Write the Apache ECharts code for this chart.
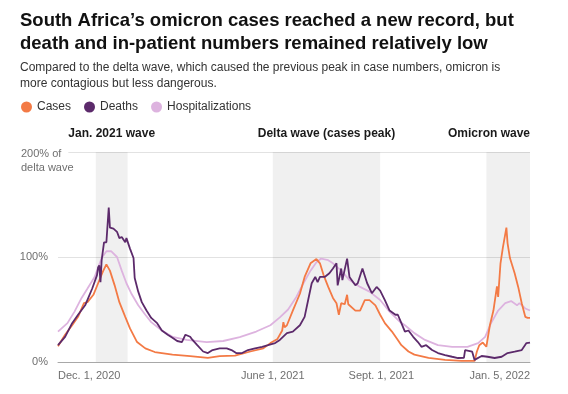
<!DOCTYPE html>
<html><head><meta charset="utf-8">
<script src="https://cdn.jsdelivr.net/npm/echarts@6/dist/echarts.min.js"></script>
<style>html,body{margin:0;padding:0;background:#fff}#c{width:568px;height:394px}</style>
</head><body><div id="c"></div>
<script>
const titleText = 'South Africa\u2019s omicron cases reached a new record, but\ndeath and in-patient numbers remained relatively low';
const subtitleText = 'Compared to the delta wave, which caused the previous peak in case numbers, omicron is\nmore contagious but less dangerous.';
const seriesNames = ['Cases', 'Deaths', 'Hospitalizations'];
const xTickDates = ['2020-12-01', '2021-06-01', '2021-09-01', '2022-01-05'];
const xTickLabels = ['Dec. 1, 2020', 'June 1, 2021', 'Sept. 1, 2021', 'Jan. 5, 2022'];
const yTicks = [0, 100, 200];
const yTickLabels = ['0%', '100%', '200% of\ndelta wave'];
const waveNames = ['Jan. 2021 wave', 'Delta wave (cases peak)', 'Omicron wave'];
const waveStarts = ['2021-01-02', '2021-06-01', '2021-11-29'];
const waveEnds = ['2021-01-29', '2021-08-31', '2022-01-05'];

const caseDates = ['2020-12-01','2020-12-07','2020-12-13','2020-12-18','2020-12-23','2020-12-26','2020-12-31','2021-01-04','2021-01-08','2021-01-11','2021-01-14','2021-01-18','2021-01-22','2021-01-27','2021-01-31','2021-02-06','2021-02-13','2021-02-21','2021-03-08','2021-03-23','2021-04-07','2021-04-17','2021-04-30','2021-05-13','2021-05-24','2021-05-30','2021-06-05','2021-06-09','2021-06-10','2021-06-11','2021-06-13','2021-06-18','2021-06-24','2021-06-28','2021-07-03','2021-07-08','2021-07-11','2021-07-14','2021-07-18','2021-07-22','2021-07-25','2021-07-27','2021-07-29','2021-08-01','2021-08-03','2021-08-04','2021-08-10','2021-08-14','2021-08-18','2021-08-22','2021-08-27','2021-08-31','2021-09-04','2021-09-10','2021-09-15','2021-09-18','2021-09-24','2021-09-29','2021-10-11','2021-10-25','2021-11-08','2021-11-19','2021-11-21','2021-11-23','2021-11-26','2021-11-29','2021-12-02','2021-12-05','2021-12-08','2021-12-09','2021-12-11','2021-12-13','2021-12-16','2021-12-17','2021-12-19','2021-12-23','2021-12-26','2021-12-29','2022-01-01','2022-01-03','2022-01-05'];
const caseValues = [15,26,35,43,56,57,64,75,86,93,87,73,57,43,32,19,13,9.5,7,5.5,4,5.5,6,10,13,18,22,30,38,33,35,49,65,81,94,98,94,83,71.5,61,56,45,56,55,64,55,49,49,59,59,54,45,37,29,21,16,10,7,4,2,1,1,10,16,18.5,14.5,35,49,72,62,94,109,128,113,99,84.5,71.5,56,43,42,42];

const deathDates = ['2020-12-01','2020-12-07','2020-12-13','2020-12-18','2020-12-24','2020-12-30','2021-01-03','2021-01-04','2021-01-05','2021-01-06','2021-01-07','2021-01-09','2021-01-11','2021-01-12','2021-01-13','2021-01-14','2021-01-17','2021-01-20','2021-01-22','2021-01-24','2021-01-27','2021-01-28','2021-01-31','2021-02-03','2021-02-04','2021-02-07','2021-02-10','2021-02-14','2021-02-18','2021-02-23','2021-02-27','2021-03-04','2021-03-08','2021-03-12','2021-03-16','2021-03-19','2021-03-23','2021-03-25','2021-03-29','2021-04-03','2021-04-07','2021-04-11','2021-04-17','2021-04-23','2021-04-27','2021-05-01','2021-05-06','2021-05-11','2021-05-17','2021-05-23','2021-05-28','2021-06-03','2021-06-07','2021-06-13','2021-06-18','2021-06-24','2021-06-28','2021-07-01','2021-07-04','2021-07-07','2021-07-09','2021-07-11','2021-07-15','2021-07-19','2021-07-22','2021-07-25','2021-07-26','2021-07-29','2021-07-30','2021-08-03','2021-08-05','2021-08-10','2021-08-12','2021-08-16','2021-08-20','2021-08-24','2021-08-28','2021-08-31','2021-09-04','2021-09-08','2021-09-13','2021-09-15','2021-09-18','2021-09-21','2021-09-24','2021-09-28','2021-10-02','2021-10-05','2021-10-09','2021-10-14','2021-10-19','2021-10-25','2021-10-31','2021-11-05','2021-11-10','2021-11-11','2021-11-17','2021-11-18','2021-11-19','2021-11-25','2021-11-30','2021-12-06','2021-12-12','2021-12-17','2021-12-23','2021-12-29','2022-01-02','2022-01-05'];
const deathValues = [16,24,37,45,54,70,82.5,90,92,76,97,114,114,114,147,128,127,124,118,119,114,118,108,99,80,67,57,49,42,37,30,26,23,20,19,26,24,21,16,10,8.5,11.4,13,13,11.4,8.5,8.5,11.4,13,14.5,16,18,21,27.5,29,35,43,59,75,81,76,81,81,84.5,89,94,73,89,78,98.5,81,73,75,89,75,65.5,71.5,68,59,49,45,45,37,29,30,24,19,14.5,16,11.4,8.5,6.6,5,3.8,4,11.4,9.8,10,2,5.7,5,3.8,5,8.5,9.8,11.4,18,18.5];

const hospDates = ['2020-12-01','2020-12-09','2020-12-15','2020-12-21','2020-12-26','2021-01-01','2021-01-07','2021-01-11','2021-01-15','2021-01-20','2021-01-24','2021-01-28','2021-02-01','2021-02-07','2021-02-13','2021-02-18','2021-02-27','2021-03-08','2021-03-20','2021-04-06','2021-04-20','2021-05-04','2021-05-18','2021-05-30','2021-06-07','2021-06-14','2021-06-21','2021-06-27','2021-07-03','2021-07-08','2021-07-12','2021-07-18','2021-07-22','2021-07-29','2021-08-05','2021-08-14','2021-08-22','2021-08-31','2021-09-08','2021-09-17','2021-09-21','2021-09-29','2021-10-08','2021-10-19','2021-10-31','2021-11-13','2021-11-22','2021-11-28','2021-12-03','2021-12-09','2021-12-15','2021-12-20','2021-12-25','2021-12-27','2022-01-01','2022-01-05'];
const hospValues = [29,37,48,61,70,81,99,105.5,105.5,100,87,75,65.5,54,45,38,30,24,21,19,20,23.7,29,35,42.5,50,62,75,87,95,98.5,97,94,87,78,71.5,67,59,48,38,35,27.5,21,16,14.5,14.5,18,24,37,49,56,58,54,56,51,49];

const colors = {Cases: '#f37a45', Deaths: '#5c2a6b', Hospitalizations: '#ddb3df'};
const FONT = '"Liberation Sans", Arial, sans-serif';

function ts(s) { return Date.parse(s + 'T00:00:00Z'); }
function pairs(d, v) { return d.map((x, i) => [ts(x), v[i]]); }
const xTickValues = xTickDates.map(ts);

const chart = echarts.init(document.getElementById('c'), null, {renderer: 'canvas'});

const bands = waveNames.map((n, i) => [
  {xAxis: ts(waveStarts[i]), name: n, label: i === 2
    ? {position: 'insideTopRight', offset: [5, -29], align: 'right'}
    : {position: 'top', distance: 12}},
  {xAxis: ts(waveEnds[i])}
]);

chart.setOption({
  animation: false,
  textStyle: {fontFamily: FONT},
  title: [
    {text: titleText, left: 20, top: 9, padding: 0, textStyle: {fontFamily: FONT, fontSize: 18.5, fontWeight: 'bold', color: '#111', lineHeight: 23}},
    {text: subtitleText, left: 20, top: 60, padding: 0, textStyle: {fontFamily: FONT, fontSize: 12, fontWeight: 'normal', color: '#333', lineHeight: 16}}
  ],
  legend: {
    data: seriesNames, left: 21, top: 101, padding: 0, icon: 'circle', itemWidth: 11, itemHeight: 11, itemGap: 13,
    textStyle: {fontFamily: FONT, fontSize: 12, color: '#333'}
  },
  grid: {left: 58, right: 38, top: 152, bottom: 32, containLabel: false},
  xAxis: {
    type: 'value', min: xTickValues[0], max: xTickValues[3],
    axisLine: {show: true, lineStyle: {color: '#a8a8a8', width: 1}},
    axisTick: {show: false},
    splitLine: {show: false},
    axisLabel: {
      customValues: xTickValues,
      formatter: (v) => { const i = xTickValues.indexOf(v); return i >= 0 ? xTickLabels[i] : ''; },
      alignMinLabel: 'left', alignMaxLabel: 'right',
      color: '#6f6f6f', fontSize: 11, fontFamily: FONT, margin: 8, hideOverlap: false
    }
  },
  yAxis: {
    type: 'value', min: 0, max: 200, interval: 100,
    axisLine: {show: false}, axisTick: {show: false},
    splitLine: {lineStyle: {color: '#e2e2e2', width: 1}},
    axisLabel: {
      align: 'left', margin: 37, color: '#6f6f6f', fontSize: 11, fontFamily: FONT,
      formatter: (v) => {
        const i = yTicks.indexOf(v);
        if (v === 200) { const p = yTickLabels[i].split('\n'); return '{e| }\n{g|' + p[0] + '}\n{l|' + p[1] + '}'; }
        return '{r|' + yTickLabels[i] + '}';
      },
      rich: {
        r: {width: 27, align: 'right', fontSize: 11, color: '#6f6f6f', fontFamily: FONT},
        g: {align: 'left', fontSize: 11, color: '#6f6f6f', lineHeight: 14, fontFamily: FONT, backgroundColor: '#fff', padding: [0, 7, 0, 0]},
        l: {align: 'left', fontSize: 11, color: '#6f6f6f', lineHeight: 14, fontFamily: FONT},
        e: {fontSize: 11, lineHeight: 18}
      }
    }
  },
  series: [
    {
      name: 'Hospitalizations', type: 'line', data: pairs(hospDates, hospValues), showSymbol: false, z: 2,
      lineStyle: {color: colors.Hospitalizations, width: 1.8}, itemStyle: {color: colors.Hospitalizations},
      markArea: {
        silent: true,
        itemStyle: {color: 'rgba(0,0,0,0.06)'},
        label: {show: true, color: '#1a1a1a', fontSize: 12, fontWeight: 'bold', fontFamily: FONT},
        data: bands
      }
    },
    {
      name: 'Cases', type: 'line', data: pairs(caseDates, caseValues), showSymbol: false, z: 3,
      lineStyle: {color: colors.Cases, width: 1.8}, itemStyle: {color: colors.Cases}
    },
    {
      name: 'Deaths', type: 'line', data: pairs(deathDates, deathValues), showSymbol: false, z: 4,
      lineStyle: {color: colors.Deaths, width: 1.8}, itemStyle: {color: colors.Deaths}
    }
  ]
});
</script></body></html>
